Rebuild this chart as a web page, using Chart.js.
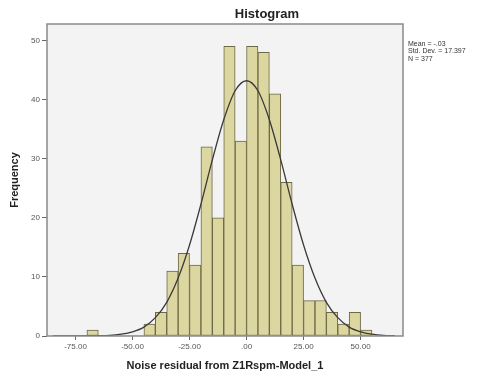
<!DOCTYPE html>
<html>
<head>
<meta charset="utf-8">
<script src="https://cdn.jsdelivr.net/npm/chart.js@4/dist/chart.umd.min.js"></script>
<style>
  body { margin: 0; background: #fff; }
  canvas { display: block; }
</style>
</head>
<body>
<canvas id="chart" width="484" height="376"></canvas>
<script>
// Histogram bins (lower edge of each 5-unit bin) and counts
const binStarts = [-70, -65, -60, -55, -50, -45, -40, -35, -30, -25, -20, -15, -10, -5,
                   0, 5, 10, 15, 20, 25, 30, 35, 40, 45, 50];
const counts = [1, 0, 0, 0, 0, 2, 4, 11, 14, 12, 32, 20, 49, 33,
                49, 48, 41, 26, 12, 6, 6, 4, 2, 4, 1];
const binWidth = 5;

// Normal curve, every 5 units
const curveX = [-85, -80, -75, -70, -65, -60, -55, -50, -45, -40, -35, -30, -25, -20, -15, -10, -5,
                0, 5, 10, 15, 20, 25, 30, 35, 40, 45, 50, 55, 60, 65];
const curveY = [0, 0, 0, 0.01, 0.04, 0.1, 0.3, 0.7, 1.5, 3.1, 5.7, 9.8, 15.4, 22.3, 29.8, 36.6, 41.5,
                43.2, 41.5, 36.6, 29.8, 22.3, 15.4, 9.8, 5.7, 3.1, 1.5, 0.7, 0.3, 0.1, 0.04];

const xTicks = [-75, -50, -25, 0, 25, 50];
const yTicks = [0, 10, 20, 30, 40, 50];
const statLines = ['Mean = -.03', 'Std. Dev. = 17.397', 'N = 377'];

const FONT = "'Liberation Sans', Arial, sans-serif";

function fmtX(v) {
  const s = Math.abs(v).toFixed(2);
  const t = s.startsWith('0') ? s.slice(1) : s;
  return (v < 0 ? '-' : '') + t;
}

const framePlugin = {
  id: 'frame',
  beforeDraw(chart) {
    const { ctx, chartArea: a } = chart;
    ctx.save();
    ctx.fillStyle = '#f3f3f4';
    ctx.fillRect(a.left, a.top, a.right - a.left, a.bottom - a.top);
    ctx.restore();
  },
  afterDraw(chart) {
    const { ctx, chartArea: a } = chart;
    ctx.save();
    ctx.strokeStyle = '#8a8a8a';
    ctx.lineWidth = 1.5;
    ctx.strokeRect(a.left, a.top, a.right - a.left, a.bottom - a.top);
    // title
    ctx.fillStyle = '#222';
    ctx.font = 'bold 13px ' + FONT;
    ctx.textAlign = 'center';
    ctx.textBaseline = 'middle';
    ctx.fillText('Histogram', 267, 14);
    // stats text
    ctx.font = '7px ' + FONT;
    ctx.textAlign = 'left';
    ctx.fillStyle = '#333';
    statLines.forEach((s, i) => ctx.fillText(s, a.right + 5, 44 + i * 7.5));
    ctx.restore();
  }
};

const ctx = document.getElementById('chart').getContext('2d');
new Chart(ctx, {
  data: {
    datasets: [
      {
        type: 'line',
        data: curveX.map((x, i) => ({ x: x, y: curveY[i] })),
        borderColor: '#3a3a3a',
        borderWidth: 1.3,
        pointRadius: 0,
        cubicInterpolationMode: 'monotone',
        fill: false,
        order: 0
      },
      {
        type: 'bar',
        data: binStarts.map((b, i) => ({ x: b + binWidth / 2, y: counts[i] })),
        backgroundColor: '#dcd6a0',
        borderColor: '#6c6944',
        borderWidth: (c) => (c.raw && c.raw.y > 0 ? 1 : 0),
        borderSkipped: false,
        barPercentage: 1,
        categoryPercentage: 1,
        order: 1
      }
    ]
  },
  options: {
    responsive: false,
    animation: false,
    layout: { padding: { top: 24, right: 81, left: 0, bottom: 0 } },
    plugins: { legend: { display: false }, tooltip: { enabled: false } },
    scales: {
      x: {
        type: 'linear',
        min: -87.5,
        max: 68.6,
        offset: false,
        afterBuildTicks: (s) => { s.ticks = xTicks.map(v => ({ value: v })); },
        afterFit: (s) => { s.height = 40; },
        grid: { offset: false, drawOnChartArea: false, drawTicks: true, tickLength: 4, color: '#666' },
        border: { display: false },
        ticks: {
          callback: (v) => fmtX(v),
          color: '#555',
          padding: 2,
          maxRotation: 0,
          font: { family: FONT, size: 8 }
        },
        title: {
          display: true,
          text: 'Noise residual from Z1Rspm-Model_1',
          color: '#222',
          padding: { top: 0, bottom: 3 },
          font: { family: FONT, size: 11, weight: 'bold' }
        }
      },
      y: {
        min: 0,
        max: 52.8,
        afterBuildTicks: (s) => { s.ticks = yTicks.map(v => ({ value: v })); },
        afterFit: (s) => { s.width = 47; },
        grid: { drawOnChartArea: false, drawTicks: true, tickLength: 5, color: '#666' },
        border: { display: false },
        ticks: {
          color: '#555',
          padding: 2,
          font: { family: FONT, size: 8 }
        },
        title: {
          display: true,
          text: 'Frequency',
          color: '#222',
          padding: { top: 8, bottom: 0 },
          font: { family: FONT, size: 11, weight: 'bold' }
        }
      }
    }
  },
  plugins: [framePlugin]
});
</script>
</body>
</html>
